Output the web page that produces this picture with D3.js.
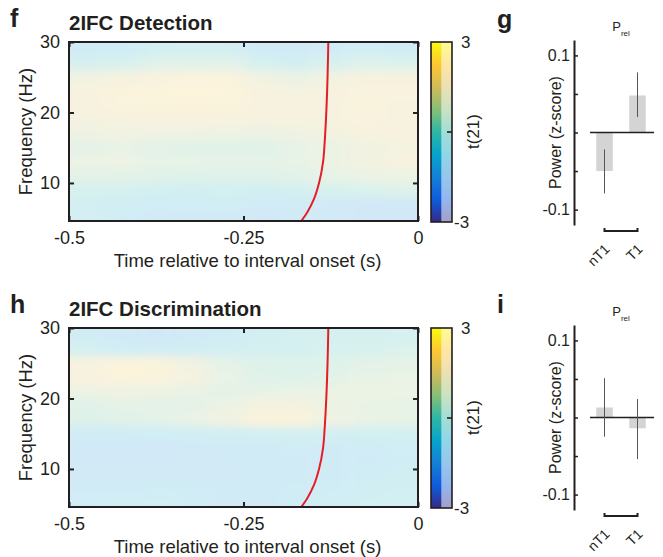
<!DOCTYPE html>
<html>
<head>
<meta charset="utf-8">
<script src="https://cdn.jsdelivr.net/npm/d3@7"></script>
<style>
  body { margin: 0; background: #fff; }
  svg text { font-family: "Liberation Sans", Arial, Helvetica, sans-serif; fill: #231f20; }
</style>
</head>
<body>
<div id="svg-container"></div>
<script>
////////////////////////////////////////////////////////////////////
////////////////////////////  Data  ////////////////////////////////
// time bins (s) and frequency bins (Hz) of the t-maps
const timeEdges = [-0.5, -0.45, -0.4, -0.35, -0.3, -0.25, -0.2, -0.15, -0.1, -0.05, 0];
const freqCenters = [29, 27, 25, 23, 21, 19, 17, 15, 13, 11, 9, 7, 5];

// t(21) values, one row per frequency (top row = 29 Hz)
const tDetection = [
  [-0.9, -0.8, -0.5, -0.3, -0.4, -1.0, -1.3, -1.1, -0.7, -0.8],
  [-0.2, 0.0, 0.4, 0.4, 0.5, -0.1, -0.4, 0.0, 0.3, 0.1],
  [1.2, 1.4, 1.6, 1.7, 1.7, 1.2, 0.8, 1.2, 1.5, 1.5],
  [1.6, 1.8, 2.0, 2.1, 2.0, 1.6, 1.4, 1.5, 1.7, 1.7],
  [1.6, 1.7, 1.8, 1.8, 1.8, 1.6, 1.5, 1.6, 1.7, 1.6],
  [1.4, 1.5, 1.6, 1.6, 1.6, 1.5, 1.5, 1.6, 1.7, 1.6],
  [1.1, 1.2, 1.1, 1.1, 1.0, 0.9, 1.1, 1.3, 1.5, 1.5],
  [0.6, 0.7, 0.5, 0.4, 0.4, 0.4, 0.7, 0.9, 1.2, 1.4],
  [0.9, 1.0, 0.7, 0.7, 0.6, 0.6, 0.7, 1.0, 1.3, 1.5],
  [0.5, 0.5, 0.4, 0.3, 0.4, 0.4, 0.5, 0.7, 0.9, 1.0],
  [0.0, -0.1, -0.3, -0.4, -0.3, -0.4, -0.3, 0.0, 0.1, 0.3],
  [-0.4, -0.6, -0.8, -0.8, -0.7, -1.0, -1.0, -1.2, -1.4, -1.3],
  [-0.4, -0.8, -1.0, -1.2, -1.2, -1.4, -1.2, -1.3, -1.5, -1.5]
];
const tDiscrimination = [
  [-0.8, -1.2, -1.4, -1.2, -0.8, -0.5, -0.3, -0.2, -0.2, -0.1],
  [-0.3, -0.8, -0.9, -0.6, -0.4, -0.3, -0.2, -0.1, 0.0, 0.1],
  [1.5, 1.9, 1.8, 1.2, 0.6, 0.3, 0.2, 0.3, 0.5, 0.6],
  [1.6, 1.9, 1.8, 1.4, 0.8, 0.4, 0.3, 0.5, 0.7, 0.8],
  [1.0, 1.1, 1.0, 0.8, 0.6, 0.7, 0.8, 0.9, 0.9, 0.9],
  [0.4, 0.6, 0.6, 0.6, 0.9, 1.4, 1.4, 1.0, 0.8, 0.7],
  [0.3, 0.4, 0.5, 0.8, 1.3, 1.9, 1.8, 1.2, 0.8, 0.7],
  [-0.9, -0.9, -0.8, -0.7, -0.6, -0.4, -0.3, -0.4, -0.5, -0.4],
  [-1.3, -1.3, -1.3, -1.2, -1.1, -1.0, -0.9, -1.0, -0.9, -0.7],
  [-1.3, -1.3, -1.3, -1.3, -1.2, -1.1, -1.0, -1.1, -1.0, -0.8],
  [-1.2, -1.2, -1.2, -1.2, -1.2, -1.1, -1.0, -1.0, -0.8, -0.6],
  [-1.0, -1.0, -0.9, -0.9, -1.0, -1.0, -0.9, -0.8, -0.6, -0.5],
  [-0.8, -0.7, -0.6, -0.8, -1.0, -1.0, -0.9, -0.7, -0.5, -0.4]
];

// red boundary line (frequency, time)
const coiFreq = [30, 25.3, 20, 15.8, 13, 10, 7.74, 5.85, 4.6];
const coiTime = [-0.1285, -0.1295, -0.1314, -0.1337, -0.136, -0.1418, -0.149, -0.1586, -0.1672];

const xTicks = [-0.5, -0.25, 0];
const yTicks = [10, 20, 30];

// bar panels
const barGroups = ["nT1", "T1"];
const detMean = [-0.050, 0.048];
const detLow = [-0.079, 0.020];
const detHigh = [-0.022, 0.078];
const disMean = [0.013, -0.014];
const disLow = [-0.025, -0.054];
const disHigh = [0.051, 0.024];
const barTicks = [-0.1, -0.05, 0, 0.05, 0.1];

// parula colormap
const parulaColors = ["#352a87", "#0f5cdd", "#1481d6", "#06a4ca", "#2eb7a4", "#87bf77", "#d1bb59", "#fec832", "#f9fb0e"];

////////////////////////////////////////////////////////////////////
////////////////////////////  Init  ////////////////////////////////
const width = 663;
const height = 557;
const svg = d3.select("#svg-container").append("svg")
  .attr("width", width).attr("height", height);
const defs = svg.append("defs");

const parula = d3.scaleLinear()
  .domain(d3.range(parulaColors.length).map((i) => -3 + (6 * i) / (parulaColors.length - 1)))
  .range(parulaColors)
  .interpolate(d3.interpolateRgb)
  .clamp(true);
const faded = (t) => d3.interpolateRgb("#ffffff", parula(t))(0.19);

// colorbar gradient
const grad = defs.append("linearGradient").attr("id", "parula-grad")
  .attr("x1", 0).attr("y1", 1).attr("x2", 0).attr("y2", 0);
grad.selectAll("stop").data(parulaColors).join("stop")
  .attr("offset", (d, i) => i / (parulaColors.length - 1))
  .attr("stop-color", (d) => d);

defs.append("filter").attr("id", "smooth")
  .attr("x", "-10%").attr("y", "-10%").attr("width", "120%").attr("height", "120%")
  .append("feGaussianBlur").attr("stdDeviation", "9 4");

const plotLeft = 69, plotRight = 418, plotH = 179;
const cbLeft = 431, cbWidth = 21;

////////////////////////////////////////////////////////////////////
////////////////////////////  Heatmap panel  ///////////////////////
function heatPanel(top, letter, title, grid, id) {
  const x = d3.scaleLinear().domain([-0.5, 0]).range([plotLeft, plotRight]);
  const y = d3.scaleLinear().domain([4.6, 30]).range([top + plotH, top]);

  defs.append("clipPath").attr("id", "clip-" + id)
    .append("rect").attr("x", plotLeft).attr("y", top)
    .attr("width", plotRight - plotLeft).attr("height", plotH);

  const cells = [];
  grid.forEach((row, r) => row.forEach((v, c) => cells.push({ r, c, v })));
  const nc = timeEdges.length - 1, nr = freqCenters.length;
  const pad = 25;

  svg.append("g").attr("clip-path", `url(#clip-${id})`)
    .append("g").attr("filter", "url(#smooth)")
    .selectAll("rect").data(cells).join("rect")
    .attr("x", (d) => x(timeEdges[d.c]) - (d.c === 0 ? pad : 0))
    .attr("width", (d) => x(timeEdges[d.c + 1]) - x(timeEdges[d.c]) + (d.c === 0 || d.c === nc - 1 ? pad : 0) + 0.5)
    .attr("y", (d) => y(freqCenters[d.r] + 1) - (d.r === 0 ? pad : 0))
    .attr("height", (d) => y(freqCenters[d.r] - 1) - y(freqCenters[d.r] + 1) + (d.r === 0 || d.r === nr - 1 ? pad : 0) + 0.5)
    .attr("fill", (d) => faded(d.v));

  // red line
  const line = d3.line().x((d) => x(d[1])).y((d) => y(d[0])).curve(d3.curveMonotoneY);
  svg.append("path").datum(coiFreq.map((f, i) => [f, coiTime[i]]))
    .attr("clip-path", `url(#clip-${id})`)
    .attr("d", line).attr("fill", "none")
    .attr("stroke", "#e41e26").attr("stroke-width", 2);

  // axes (ticks inside the box)
  const styleAxis = (g) => {
    g.select(".domain").remove();
    g.selectAll(".tick line").attr("stroke", "#231f20").attr("stroke-width", 2);
    g.selectAll("text").attr("font-size", 18).attr("fill", "#231f20");
  };
  svg.append("g").attr("transform", `translate(0,${top + plotH})`)
    .call(d3.axisBottom(x).tickValues(xTicks).tickSize(-5).tickPadding(10).tickFormat((d) => d))
    .call(styleAxis);
  svg.append("g").attr("transform", `translate(0,${top})`)
    .call(d3.axisTop(x).tickValues(xTicks).tickSize(-5).tickFormat(""))
    .call(styleAxis);
  svg.append("g").attr("transform", `translate(${plotLeft},0)`)
    .call(d3.axisLeft(y).tickValues(yTicks).tickSize(-5).tickPadding(9))
    .call(styleAxis);
  svg.append("g").attr("transform", `translate(${plotRight},0)`)
    .call(d3.axisRight(y).tickValues(yTicks).tickSize(-5).tickFormat(""))
    .call(styleAxis);

  svg.append("rect").attr("x", plotLeft).attr("y", top)
    .attr("width", plotRight - plotLeft).attr("height", plotH)
    .attr("fill", "none").attr("stroke", "#231f20").attr("stroke-width", 2);

  // labels
  svg.append("text").attr("x", 10).attr("y", top - 15)
    .attr("font-size", 25).attr("font-weight", "bold").text(letter);
  svg.append("text").attr("x", plotLeft).attr("y", top - 12)
    .attr("font-size", 20.5).attr("font-weight", "bold").text(title);
  svg.append("text").attr("x", (plotLeft + plotRight) / 2 + 4).attr("y", top + plotH + 46)
    .attr("text-anchor", "middle").attr("font-size", 18.5)
    .text("Time relative to interval onset (s)");
  svg.append("text")
    .attr("transform", `translate(32,${top + plotH / 2}) rotate(-90)`)
    .attr("text-anchor", "middle").attr("font-size", 18.5).text("Frequency (Hz)");

  // colorbar
  const cb = d3.scaleLinear().domain([-3, 3]).range([top + plotH + 1, top]);
  svg.append("rect").attr("x", cbLeft).attr("y", cb(3))
    .attr("width", cbWidth / 2).attr("height", cb(-3) - cb(3))
    .attr("fill", "url(#parula-grad)");
  svg.append("rect").attr("x", cbLeft + cbWidth / 2).attr("y", cb(3))
    .attr("width", cbWidth / 2).attr("height", cb(-3) - cb(3))
    .attr("fill", "url(#parula-grad)").attr("opacity", 0.45);
  svg.append("rect").attr("x", cbLeft).attr("y", cb(3))
    .attr("width", cbWidth).attr("height", cb(-3) - cb(3))
    .attr("fill", "none").attr("stroke", "#231f20").attr("stroke-width", 1.6);
  svg.append("line").attr("x1", cbLeft + cbWidth).attr("x2", cbLeft + cbWidth - 5)
    .attr("y1", cb(0)).attr("y2", cb(0)).attr("stroke", "#231f20").attr("stroke-width", 1.6);
  svg.selectAll(null).data([3, -3]).join("text")
    .attr("x", (d) => (d > 0 ? cbLeft + cbWidth + 9 : cbLeft + cbWidth + 2))
    .attr("y", (d) => cb(d) + 6).attr("font-size", 17).text((d) => d);
  svg.append("text")
    .attr("transform", `translate(479,${top + plotH / 2}) rotate(-90)`)
    .attr("text-anchor", "middle").attr("font-size", 17).text("t(21)");
}

////////////////////////////////////////////////////////////////////
////////////////////////////  Bar panel  ///////////////////////////
function barPanel(top, letter, mean, low, high) {
  const axisX = 574;
  const y = d3.scaleLinear().domain([-0.12, 0.12]).range([top + 185, top]);
  const x = d3.scaleBand().domain(barGroups).range([588, 654])
    .paddingInner(0.5).paddingOuter(0.25);

  svg.selectAll(null).data(barGroups).join("rect")
    .attr("x", (d) => x(d)).attr("width", x.bandwidth())
    .attr("y", (d, i) => Math.min(y(mean[i]), y(0)))
    .attr("height", (d, i) => Math.abs(y(mean[i]) - y(0)))
    .attr("fill", "#d4d4d4");

  svg.append("line").attr("x1", x.range()[0] + 2).attr("x2", x.range()[1])
    .attr("y1", y(0)).attr("y2", y(0)).attr("stroke", "#231f20").attr("stroke-width", 1.3);

  svg.selectAll(null).data(barGroups).join("line")
    .attr("x1", (d) => x(d) + x.bandwidth() / 2).attr("x2", (d) => x(d) + x.bandwidth() / 2)
    .attr("y1", (d, i) => y(low[i])).attr("y2", (d, i) => y(high[i]))
    .attr("stroke", "#555").attr("stroke-width", 1);

  svg.append("g").attr("transform", `translate(${axisX},0)`)
    .call(d3.axisLeft(y).tickValues(barTicks).tickSize(-4).tickSizeOuter(0).tickPadding(4)
      .tickFormat((d) => (Math.abs(d) === 0.1 ? d : "")))
    .call((g) => {
      g.select(".domain").attr("stroke", "#231f20").attr("stroke-width", 2);
      g.selectAll(".tick line").attr("stroke", "#231f20").attr("stroke-width", 1.5);
      g.selectAll("text").attr("font-size", 16).attr("fill", "#231f20");
    });

  svg.append("text")
    .attr("transform", `translate(561,${y(0)}) rotate(-90)`)
    .attr("text-anchor", "middle").attr("font-size", 16).text("Power (z-score)");

  // bracket under the groups
  const c0 = x(barGroups[0]) + x.bandwidth() / 2, c1 = x(barGroups[1]) + x.bandwidth() / 2;
  const by = top + 191;
  svg.append("path")
    .attr("d", `M${c0},${by - 3}V${by}H${c1}V${by - 3}`)
    .attr("fill", "none").attr("stroke", "#231f20").attr("stroke-width", 2);

  svg.selectAll(null).data(barGroups).join("text")
    .attr("transform", (d) => `translate(${x(d) + x.bandwidth() / 2 + 6},${top + 210}) rotate(-45)`)
    .attr("text-anchor", "end").attr("font-size", 14).text((d) => d);

  const title = svg.append("text").attr("x", (x.range()[0] + x.range()[1]) / 2)
    .attr("y", top - 9).attr("text-anchor", "middle").attr("font-size", 13);
  title.append("tspan").text("P");
  title.append("tspan").attr("dy", 5).attr("font-size", 8).text("rel");

  svg.append("text").attr("x", 497).attr("y", top - 12)
    .attr("font-size", 25).attr("font-weight", "bold").text(letter);
}

heatPanel(42, "f", "2IFC Detection", tDetection, "f");
heatPanel(328, "h", "2IFC Discrimination", tDiscrimination, "h");
barPanel(40, "g", detMean, detLow, detHigh);
barPanel(325, "i", disMean, disLow, disHigh);
</script>
</body>
</html>
